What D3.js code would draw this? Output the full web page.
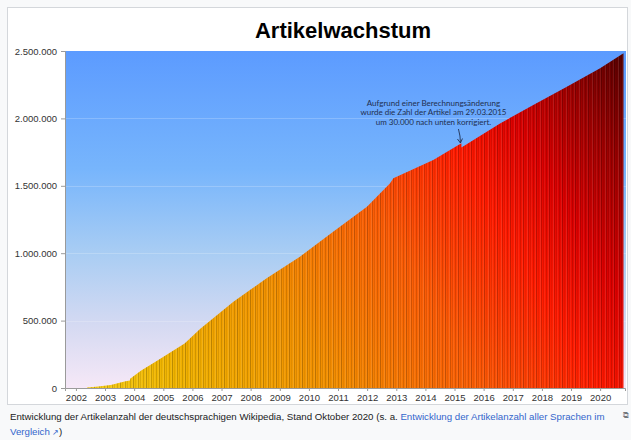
<!DOCTYPE html>
<html>
<head>
<meta charset="utf-8">
<script src="https://cdn.jsdelivr.net/npm/d3@7"></script>
<style>
  body { margin: 0; background: #f8f9fa; }
  svg { display: block; font-family: "Liberation Sans", Arial, sans-serif; }
</style>
</head>
<body>
<svg id="chart"></svg>
<script>
// Artikelanzahl der deutschsprachigen Wikipedia
var dates = ["2002-05-20", "2002-09-10", "2003-03-15", "2003-09-15", "2003-11-10", "2003-11-12",
             "2004-03-25", "2004-09-25", "2005-09-25", "2006-04-10", "2006-09-15", "2007-05-30",
             "2008-07-20", "2009-09-10", "2010-11-01", "2011-12-30", "2012-10-15", "2012-11-25",
             "2014-04-10", "2015-03-28", "2015-03-29", "2016-07-25", "2017-09-15", "2018-11-10",
             "2020-01-01", "2020-10-20"];
var articles = [3000, 10000, 22000, 50000, 55000, 69000,
                128000, 195000, 331000, 440000, 515000, 640000,
                814000, 974000, 1159000, 1345000, 1518000, 1556000,
                1691000, 1815000, 1785000, 1963000, 2099000, 2235000,
                2372000, 2483000];
var yTicks = [0, 500000, 1000000, 1500000, 2000000, 2500000];
var years = d3.range(2002, 2021);
var noteLines = ["Aufgrund einer Berechnungsänderung",
                 "wurde die Zahl der Artikel am 29.03.2015",
                 "um 30.000 nach unten korrigiert."];
var noteDate = "2015-03-29";

var width = 631, height = 440;
var plot = {left: 65, right: 626, top: 51, bottom: 388};

var parse = d3.timeParse("%Y-%m-%d");
var data = dates.map(function(d, i) { return {date: parse(d), value: articles[i]}; });

var svg = d3.select("#chart").attr("width", width).attr("height", height);
var defs = svg.append("defs");

// frame of the image
svg.append("rect")
    .attr("x", 7.5).attr("y", 7.5).attr("width", 620).attr("height", 397)
    .attr("fill", "#fff").attr("stroke", "#d4d7db");

svg.append("text")
    .attr("x", 343).attr("y", 38)
    .attr("text-anchor", "middle")
    .attr("font-size", 22).attr("font-weight", "bold")
    .text("Artikelwachstum");

var x = d3.scaleTime()
    .domain([new Date(2001, 7, 17), new Date(2020, 10, 8)])
    .range([65, 625]);
var y = d3.scaleLinear().domain([0, 2500000]).range([plot.bottom, plot.top]);

// background gradient
var bg = defs.append("linearGradient").attr("id", "bg")
    .attr("x1", 0).attr("y1", 0).attr("x2", 0).attr("y2", 1);
[[0, "#5c9bff"], [0.35, "#77b5fc"], [0.6, "#a9cdf3"], [0.82, "#d6daf2"], [1, "#f6e8f7"]]
  .forEach(function(s) { bg.append("stop").attr("offset", s[0]).attr("stop-color", s[1]); });

svg.append("rect")
    .attr("x", plot.left).attr("y", plot.top)
    .attr("width", plot.right - plot.left).attr("height", plot.bottom - plot.top)
    .attr("fill", "url(#bg)");

// gridlines
svg.append("g").selectAll("line")
  .data(yTicks.slice(1, -1))
  .enter().append("line")
    .attr("x1", plot.left).attr("x2", plot.right)
    .attr("y1", function(d) { return Math.round(y(d)) + 0.5; })
    .attr("y2", function(d) { return Math.round(y(d)) + 0.5; })
    .attr("stroke", "#fff").attr("stroke-opacity", 0.2);

// fill gradient yellow -> red -> dark red
var fill = defs.append("linearGradient").attr("id", "fill")
    .attr("gradientUnits", "userSpaceOnUse")
    .attr("x1", 65).attr("y1", 388).attr("x2", 625).attr("y2", 51);
[[0, "#f6d21c"], [0.15, "#f0b400"], [0.35, "#f29000"], [0.55, "#fb5a05"],
 [0.7, "#ff1a00"], [0.8, "#dc0000"], [0.9, "#9c0000"], [1, "#520000"]]
  .forEach(function(s) { fill.append("stop").attr("offset", s[0]).attr("stop-color", s[1]); });

// streaks like the daily bars
var pat = defs.append("pattern").attr("id", "streaks")
    .attr("patternUnits", "userSpaceOnUse")
    .attr("width", 13).attr("height", 10);
[[0, "#000", 0.14], [2, "#fff", 0.08], [3, "#000", 0.22], [5, "#000", 0.07],
 [7, "#fff", 0.1], [8, "#000", 0.17], [10, "#000", 0.09], [11, "#fff", 0.06]]
  .forEach(function(s) {
    pat.append("rect").attr("x", s[0]).attr("y", 0).attr("width", 1).attr("height", 10)
       .attr("fill", s[1]).attr("fill-opacity", s[2]);
  });

var area = d3.area()
    .x(function(d) { return x(d.date); })
    .y0(y(0))
    .y1(function(d) { return y(d.value); });

svg.append("path").datum(data).attr("d", area).attr("fill", "url(#fill)");
svg.append("path").datum(data).attr("d", area).attr("fill", "url(#streaks)");

// axes
var yAxis = svg.append("g")
    .attr("transform", "translate(" + plot.left + ",0)")
    .call(d3.axisLeft(y).tickValues(yTicks).tickSize(4).tickPadding(4)
      .tickFormat(function(d) { return d3.format(",")(d).replace(/,/g, "."); }));
var xAxis = svg.append("g")
    .attr("transform", "translate(0," + plot.bottom + ")")
    .call(d3.axisBottom(x).tickValues(years.map(function(d) { return new Date(d, 0, 1); }))
      .tickSize(3).tickPadding(3).tickFormat(d3.timeFormat("%Y")));

[yAxis, xAxis].forEach(function(a) {
  a.select(".domain").attr("stroke", "#9a9a9a");
  a.selectAll(".tick line").attr("stroke", "#9a9a9a");
  a.selectAll("text").attr("fill", "#333").attr("font-size", 9.5)
    .attr("font-family", "Liberation Sans, Arial, sans-serif");
});

// annotation
var note = svg.append("text")
    .attr("text-anchor", "middle")
    .attr("font-family", "Lato, 'Open Sans', sans-serif")
    .attr("font-size", 8).attr("fill", "#1f2f4f");
noteLines.forEach(function(t, i) {
  note.append("tspan").attr("x", x(parse(noteDate)) - 28).attr("y", 106 + i * 9.3).text(t);
});
var nx = x(parse(noteDate));
svg.append("path")
    .attr("d", "M" + (nx - 3) + "," + 129 + " Q" + (nx - 1) + "," + 136 + " " + (nx - 1) + "," + 143 +
               " M" + (nx - 4) + "," + 139 + " L" + (nx - 1) + "," + 143 + " L" + (nx + 1) + "," + 138.5)
    .attr("fill", "none").attr("stroke", "#1f2f4f").attr("stroke-width", 0.9);

// caption
var cap = svg.append("text").attr("font-size", 9.7).attr("fill", "#202122");
cap.append("tspan").attr("x", 10).attr("y", 420)
    .text("Entwicklung der Artikelanzahl der deutschsprachigen Wikipedia, Stand Oktober 2020 (s. a. ");
cap.append("tspan").attr("fill", "#3366cc").text("Entwicklung der Artikelanzahl aller Sprachen im");
var cap2 = svg.append("text").attr("font-size", 9.7).attr("fill", "#202122");
cap2.append("tspan").attr("x", 10).attr("y", 435).attr("fill", "#3366cc").text("Vergleich");
cap2.append("tspan").attr("fill", "#3366cc").attr("font-size", 8).text(" \u2197");
cap2.append("tspan").text(")");
svg.append("text").attr("x", 623).attr("y", 418).attr("font-size", 8).attr("fill", "#72777d").text("\u29C9");
</script>
</body>
</html>
